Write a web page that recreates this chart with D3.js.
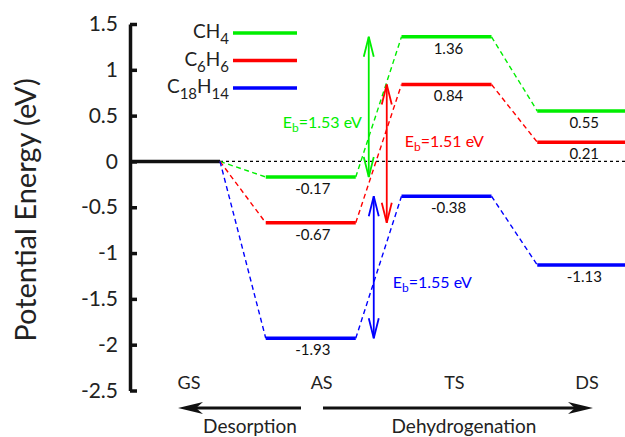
<!DOCTYPE html>
<html>
<head>
<meta charset="utf-8">
<script src="https://cdnjs.cloudflare.com/ajax/libs/d3/7.8.5/d3.min.js"></script>
<style>
  body { margin: 0; background: #fff; }
  svg { display: block; font-family: Lato, "Open Sans", sans-serif; }
</style>
</head>
<body>
<svg id="chart" width="625" height="437"></svg>
<script>
// Reaction states and energies (eV)
const states = ['GS', 'AS', 'TS', 'DS'];
const ch4Energies = [0, -0.17, 1.36, 0.55];
const c6h6Energies = [0, -0.67, 0.84, 0.21];
const c18h14Energies = [0, -1.93, -0.38, -1.13];
const barriers = [1.53, 1.51, 1.55];
const yTicks = [1.5, 1, 0.5, 0, -0.5, -1, -1.5, -2, -2.5];

const series = [
  { name: ['C', 'H', '4'], sub: [false, false, true], values: ch4Energies, color: '#00ee00' },
  { name: ['C', '6', 'H', '6'], sub: [false, true, false, true], values: c6h6Energies, color: '#ff0000' },
  { name: ['C', '18', 'H', '14'], sub: [false, true, false, true], values: c18h14Energies, color: '#0000ff' }
];

const svg = d3.select('#chart');

const y = d3.scaleLinear().domain([-2.5, 1.5]).range([390.5, 24]);
// level i starts at x(i), a level is 2/3 of a step wide
const x = d3.scaleLinear().domain([0, 4]).range([130, 673]);
const levelW = 0.663;
const labelX = d3.scalePoint().domain(states).range([189, 587]);

// zero reference line
svg.append('line')
  .attr('x1', x(levelW)).attr('x2', 625)
  .attr('y1', y(0)).attr('y2', y(0))
  .attr('stroke', '#000').attr('stroke-width', 1.2)
  .attr('stroke-dasharray', '3,3');

// y axis
const yAxis = d3.axisLeft(y)
  .tickValues(yTicks)
  .tickFormat(d3.format('~g'))
  .tickSizeInner(-7)
  .tickSizeOuter(0)
  .tickPadding(12);

const ag = svg.append('g')
  .attr('transform', 'translate(130,0)')
  .call(yAxis);
ag.select('.domain').attr('stroke', '#111').attr('stroke-width', 3.5);
ag.selectAll('.tick line').attr('stroke', '#111').attr('stroke-width', 3.5);
ag.selectAll('.tick text')
  .attr('font-family', 'Lato, sans-serif')
  .attr('font-size', 21)
  .attr('fill', '#222')
  .text(d => d3.format('~g')(d).replace('−', '-'));

svg.append('text')
  .attr('transform', 'translate(36,210) rotate(-90)')
  .attr('text-anchor', 'middle')
  .attr('font-size', 29)
  .attr('fill', '#222')
  .text('Potential Energy (eV)');

// GS level (common to all)
svg.append('line')
  .attr('x1', x(0)).attr('x2', x(levelW))
  .attr('y1', y(0)).attr('y2', y(0))
  .attr('stroke', '#111').attr('stroke-width', 3.5);

// connectors and levels
series.forEach(s => {
  for (let i = 0; i < states.length - 1; i++) {
    svg.append('line')
      .attr('x1', x(i + levelW)).attr('y1', y(s.values[i]))
      .attr('x2', x(i + 1)).attr('y2', y(s.values[i + 1]))
      .attr('stroke', s.color).attr('stroke-width', 1.4)
      .attr('stroke-dasharray', '5,3.5');
  }
  for (let i = 1; i < states.length; i++) {
    svg.append('line')
      .attr('x1', x(i)).attr('x2', Math.min(x(i + levelW), 625))
      .attr('y1', y(s.values[i])).attr('y2', y(s.values[i]))
      .attr('stroke', s.color).attr('stroke-width', 3.5);
    svg.append('text')
      .attr('x', x(i + levelW / 2) + 2)
      .attr('y', y(s.values[i]) + 17)
      .attr('text-anchor', 'middle')
      .attr('font-size', 15)
      .attr('fill', '#111')
      .text(d3.format('.2f')(s.values[i]).replace('−', '-'));
  }
});

// legend
series.forEach((s, k) => {
  const ly = 33 + k * 27.5;
  svg.append('line')
    .attr('x1', 233).attr('x2', 297)
    .attr('y1', ly).attr('y2', ly)
    .attr('stroke', s.color).attr('stroke-width', 3.5);
  const t = svg.append('text')
    .attr('x', 229).attr('y', ly + 5)
    .attr('text-anchor', 'end')
    .attr('font-size', 19)
    .attr('fill', '#222');
  let shift = 0;
  s.name.forEach((part, j) => {
    const target = s.sub[j] ? 6 : 0;
    t.append('tspan')
      .attr('font-size', s.sub[j] ? 15 : 19)
      .attr('dy', target - shift)
      .text(part);
    shift = target;
  });
});

// barrier arrows between AS and TS
const arrowDx = [13, 31, 18];
const ebLabel = [
  { dx: 6, dy: 128, anchor: 'end' },
  { dx: 49, dy: 147, anchor: 'start' },
  { dx: 37, dy: 288, anchor: 'start' }
];
series.forEach((s, k) => {
  const ax = x(1 + levelW) + arrowDx[k];
  const yTop = y(s.values[2]);
  const yBot = y(s.values[1]);
  const g = svg.append('g')
    .attr('stroke', s.color).attr('stroke-width', 1.8).attr('fill', 'none');
  g.append('line').attr('x1', ax).attr('x2', ax).attr('y1', yTop).attr('y2', yBot);
  g.append('path').attr('d', `M${ax - 5},${yTop + 20}L${ax},${yTop}L${ax + 5},${yTop + 20}`);
  g.append('path').attr('d', `M${ax - 5},${yBot - 20}L${ax},${yBot}L${ax + 5},${yBot - 20}`);

  const lbl = ebLabel[k];
  const t = svg.append('text')
    .attr('x', k === 0 ? ax - 7 : x(1 + levelW) + lbl.dx)
    .attr('y', lbl.dy)
    .attr('text-anchor', lbl.anchor)
    .attr('font-size', 16)
    .attr('fill', s.color);
  t.append('tspan').text('E');
  t.append('tspan').attr('font-size', 12).attr('dy', 4).text('b');
  t.append('tspan').attr('dy', -4).text('=' + barriers[k] + ' eV');
});

// state labels
svg.selectAll('.state')
  .data(states)
  .enter().append('text')
  .attr('x', d => labelX(d))
  .attr('y', 389)
  .attr('text-anchor', 'middle')
  .attr('font-size', 18)
  .attr('fill', '#222')
  .text(d => d);

// process arrows
function bigArrow(x1, x2, yy) {
  const dir = x2 > x1 ? 1 : -1;
  svg.append('line')
    .attr('x1', x1).attr('x2', x2 - dir * 18)
    .attr('y1', yy).attr('y2', yy)
    .attr('stroke', '#111').attr('stroke-width', 3);
  svg.append('path')
    .attr('d', `M${x2},${yy}L${x2 - dir * 25},${yy - 6}L${x2 - dir * 18},${yy}L${x2 - dir * 25},${yy + 6}Z`)
    .attr('fill', '#111');
}
bigArrow(301, 178, 408);
bigArrow(323, 593, 408);

svg.append('text')
  .attr('x', 250).attr('y', 433)
  .attr('text-anchor', 'middle').attr('font-size', 19).attr('fill', '#222')
  .text('Desorption');
svg.append('text')
  .attr('x', 464).attr('y', 433)
  .attr('text-anchor', 'middle').attr('font-size', 19).attr('fill', '#222')
  .text('Dehydrogenation');
</script>
</body>
</html>
